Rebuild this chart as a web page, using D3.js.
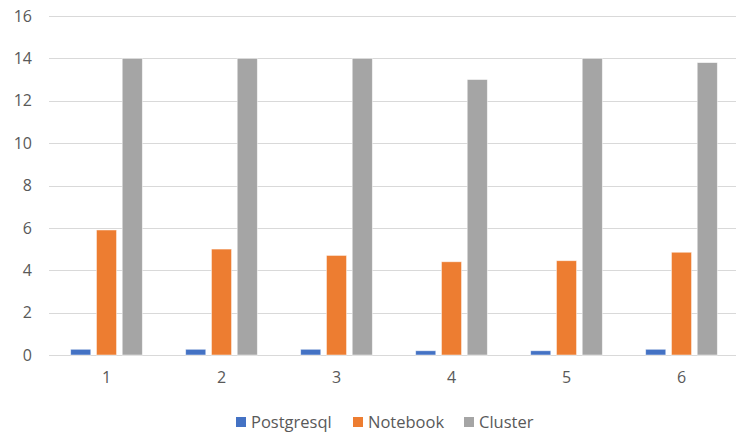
<!DOCTYPE html>
<html>
<head>
<meta charset="utf-8">
<script src="https://cdn.jsdelivr.net/npm/d3@7/dist/d3.min.js"></script>
<style>
  html, body { margin: 0; padding: 0; background: #fff; }
  svg { display: block; }
  text { font-family: "Open Sans", "DejaVu Sans", sans-serif; fill: #595959; }
</style>
</head>
<body>
<svg id="chart" width="736" height="437"></svg>
<script>
// Runs per category
const categories = ["1", "2", "3", "4", "5", "6"];
const seriesNames = ["Postgresql", "Notebook", "Cluster"];
const seriesColors = ["#4472C4", "#ED7D31", "#A5A5A5"];
const postgresql = [0.27, 0.27, 0.27, 0.2, 0.2, 0.27];
const notebook = [5.9, 5.0, 4.7, 4.4, 4.45, 4.85];
const cluster = [14, 14, 14, 13, 14, 13.8];
const yTicks = [0, 2, 4, 6, 8, 10, 12, 14, 16];

const seriesValues = [postgresql, notebook, cluster];
const rows = categories.map((c, i) => ({
  category: c,
  values: seriesNames.map((s, k) => ({ series: s, value: seriesValues[k][i], color: seriesColors[k] }))
}));

const svg = d3.select("#chart");
const plot = { left: 49, right: 739, top: 16, bottom: 355 };
const width = 736;

const x0 = d3.scaleBand()
  .domain(categories)
  .range([plot.left, plot.right])
  .paddingInner(0.377)
  .paddingOuter(0.1885);

const x1 = d3.scaleBand()
  .domain(seriesNames)
  .range([0, x0.bandwidth()])
  .paddingInner(0.22);

const y = d3.scaleLinear()
  .domain([0, 16])
  .range([plot.bottom, plot.top]);

// Horizontal gridlines
svg.append("g")
  .selectAll("line")
  .data(yTicks)
  .join("line")
  .attr("x1", plot.left)
  .attr("x2", width)
  .attr("y1", d => Math.round(y(d)) + 0.5)
  .attr("y2", d => Math.round(y(d)) + 0.5)
  .attr("stroke", "#D9D9D9")
  .attr("stroke-width", 1);

// Y axis labels
const yAxis = svg.append("g")
  .attr("transform", `translate(${plot.left},0)`)
  .call(d3.axisLeft(y).tickValues(yTicks).tickSize(0).tickPadding(17));
yAxis.select(".domain").remove();
yAxis.selectAll("text")
  .style("font-size", "16px")
  .style("font-family", "'Open Sans', sans-serif")
  .attr("fill", "#595959");

// X axis labels
const xAxis = svg.append("g")
  .attr("transform", `translate(0,${plot.bottom})`)
  .call(d3.axisBottom(x0).tickSize(0).tickPadding(17));
xAxis.select(".domain").remove();
xAxis.selectAll("text")
  .style("font-size", "16px")
  .style("font-family", "'Open Sans', sans-serif")
  .attr("fill", "#595959");

// Bars
svg.append("g")
  .selectAll("g")
  .data(rows)
  .join("g")
  .attr("transform", d => `translate(${x0(d.category)},0)`)
  .selectAll("rect")
  .data(d => d.values)
  .join("rect")
  .attr("x", d => x1(d.series))
  .attr("width", x1.bandwidth())
  .attr("y", d => y(d.value))
  .attr("height", d => y(0) - y(d.value))
  .attr("fill", d => d.color)
  .attr("stroke", "#ffffff")
  .attr("stroke-opacity", 0.6)
  .attr("stroke-width", 0.8);

// Legend
const legendItems = [
  { name: seriesNames[0], color: seriesColors[0], x: 236 },
  { name: seriesNames[1], color: seriesColors[1], x: 353 },
  { name: seriesNames[2], color: seriesColors[2], x: 464 }
];
const legend = svg.append("g").attr("transform", "translate(0,422)");
const li = legend.selectAll("g").data(legendItems).join("g")
  .attr("transform", d => `translate(${d.x},0)`);
li.append("rect")
  .attr("x", 0).attr("y", -5).attr("width", 10).attr("height", 10)
  .attr("fill", d => d.color);
li.append("text")
  .attr("x", 15).attr("y", 0).attr("dy", "0.35em")
  .style("font-size", "16.5px")
  .text(d => d.name);
</script>
</body>
</html>
